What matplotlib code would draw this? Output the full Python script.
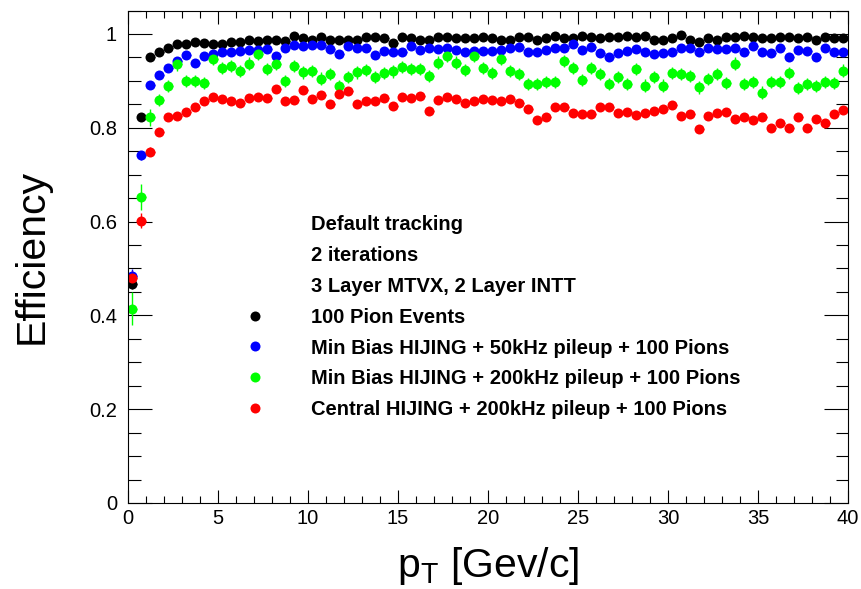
import numpy as np
import matplotlib.pyplot as plt
from matplotlib.lines import Line2D
from matplotlib.ticker import MultipleLocator, FuncFormatter

plt.rcParams['font.family'] = ['Liberation Sans', 'DejaVu Sans']
plt.rcParams['mathtext.fontset'] = 'custom'
plt.rcParams['mathtext.rm'] = 'Liberation Sans'

# pT binning: 80 bins of 0.5 GeV/c
bin_width = 0.5
n_bins = 80
pt = (np.arange(n_bins) + 0.5) * bin_width

# efficiency per bin
eff_pion = [0.467, 0.822, 0.950, 0.962, 0.971, 0.978, 0.978, 0.983, 0.980, 0.979,
            0.978, 0.983, 0.983, 0.987, 0.986, 0.988, 0.988, 0.986, 0.996, 0.991,
            0.987, 0.993, 0.988, 0.988, 0.988, 0.988, 0.994, 0.994, 0.991, 0.980,
            0.994, 0.991, 0.988, 0.988, 0.994, 0.994, 0.991, 0.991, 0.991, 0.993,
            0.991, 0.988, 0.988, 0.993, 0.994, 0.988, 0.991, 0.996, 0.991, 0.991,
            0.996, 0.993, 0.991, 0.994, 0.993, 0.996, 0.993, 0.996, 0.988, 0.988,
            0.991, 0.998, 0.988, 0.983, 0.991, 0.987, 0.993, 0.993, 0.996, 0.994,
            0.991, 0.991, 0.994, 0.993, 0.991, 0.994, 0.988, 0.993, 0.991, 0.991]

eff_mb50 = [0.483, 0.741, 0.891, 0.912, 0.927, 0.943, 0.955, 0.939, 0.952, 0.957,
            0.961, 0.962, 0.964, 0.966, 0.966, 0.967, 0.953, 0.969, 0.976, 0.974,
            0.976, 0.976, 0.967, 0.957, 0.974, 0.969, 0.969, 0.955, 0.964, 0.962,
            0.961, 0.974, 0.966, 0.969, 0.967, 0.969, 0.966, 0.962, 0.964, 0.964,
            0.964, 0.966, 0.969, 0.973, 0.961, 0.961, 0.966, 0.971, 0.971, 0.978,
            0.966, 0.973, 0.959, 0.950, 0.960, 0.964, 0.967, 0.962, 0.957, 0.959,
            0.962, 0.969, 0.971, 0.961, 0.971, 0.967, 0.967, 0.969, 0.962, 0.974,
            0.962, 0.959, 0.969, 0.950, 0.966, 0.964, 0.950, 0.969, 0.961, 0.962]

eff_mb200 = [0.414, 0.653, 0.822, 0.859, 0.889, 0.935, 0.900, 0.900, 0.896, 0.947,
             0.928, 0.932, 0.921, 0.937, 0.957, 0.925, 0.937, 0.900, 0.932, 0.918,
             0.921, 0.905, 0.914, 0.889, 0.909, 0.918, 0.924, 0.908, 0.916, 0.920,
             0.930, 0.925, 0.925, 0.911, 0.939, 0.953, 0.939, 0.923, 0.953, 0.927,
             0.916, 0.946, 0.921, 0.914, 0.893, 0.894, 0.898, 0.898, 0.943, 0.927,
             0.902, 0.927, 0.914, 0.893, 0.908, 0.893, 0.925, 0.890, 0.908, 0.890,
             0.916, 0.914, 0.911, 0.886, 0.904, 0.914, 0.896, 0.937, 0.893, 0.898,
             0.875, 0.898, 0.898, 0.916, 0.884, 0.893, 0.889, 0.898, 0.896, 0.922]

eff_central = [0.479, 0.602, 0.749, 0.790, 0.822, 0.826, 0.833, 0.845, 0.858, 0.865,
               0.861, 0.858, 0.852, 0.863, 0.865, 0.863, 0.882, 0.856, 0.859, 0.880,
               0.861, 0.870, 0.850, 0.873, 0.878, 0.850, 0.857, 0.858, 0.864, 0.847,
               0.866, 0.863, 0.868, 0.836, 0.859, 0.865, 0.861, 0.852, 0.856, 0.861,
               0.859, 0.856, 0.861, 0.852, 0.839, 0.817, 0.822, 0.845, 0.844, 0.831,
               0.829, 0.829, 0.844, 0.845, 0.832, 0.834, 0.827, 0.831, 0.836, 0.839,
               0.848, 0.825, 0.830, 0.797, 0.825, 0.831, 0.833, 0.819, 0.822, 0.817,
               0.822, 0.799, 0.811, 0.799, 0.822, 0.799, 0.819, 0.811, 0.830, 0.838]

# errors: first three bins read separately, flat value above
err_low = {'pion': [0.010, 0.008, 0.005], 'mb50': [0.016, 0.010, 0.006],
           'mb200': [0.035, 0.028, 0.018], 'central': [0.015, 0.016, 0.010]}
err_flat = {'pion': 0.004, 'mb50': 0.005, 'mb200': 0.013, 'central': 0.006}

labels = ["100 Pion Events",
          "Min Bias HIJING + 50kHz pileup + 100 Pions",
          "Min Bias HIJING + 200kHz pileup + 100 Pions",
          "Central HIJING + 200kHz pileup + 100 Pions"]
header = ["Default tracking", "2 iterations", "3 Layer MTVX, 2 Layer INTT"]
colors = ['#000000', '#0000ff', '#00ff00', '#ff0000']
keys = ['pion', 'mb50', 'mb200', 'central']
series = [eff_pion, eff_mb50, eff_mb200, eff_central]

fig = plt.figure(figsize=(8.62, 5.89), dpi=100)
ax = fig.add_axes([128 / 862, 86 / 589, 720 / 862, 492.5 / 589])

handles = []
for key, eff, col, lab in zip(keys, series, colors, labels):
    err = err_low[key] + [err_flat[key]] * (n_bins - len(err_low[key]))
    cont = ax.errorbar(pt, eff, xerr=bin_width / 2, yerr=err, fmt='o', color=col,
                       ms=7.2, mew=0, elinewidth=1, capsize=0, label=lab)
    handles.append(cont[0])

ax.set_xlim(0, 40)
ax.set_ylim(0, 1.05)
ax.xaxis.set_major_locator(MultipleLocator(5))
ax.xaxis.set_minor_locator(MultipleLocator(1))
ax.yaxis.set_major_locator(MultipleLocator(0.2))
ax.yaxis.set_minor_locator(MultipleLocator(0.05))
ax.yaxis.set_major_formatter(FuncFormatter(lambda v, p: f'{v:g}'))

ax.tick_params(which='both', direction='in', top=True, right=True, width=0.8,
               labelsize=14.5)
ax.tick_params(axis='x', which='major', length=9.7, pad=4)
ax.tick_params(axis='x', which='minor', length=5)
ax.tick_params(axis='y', which='major', length=17, pad=8)
ax.tick_params(axis='y', which='minor', length=9)
for sp in ax.spines.values():
    sp.set_linewidth(0.8)

ax.set_xlabel(r'p$_{\rm T}$ [Gev/c]', fontsize=29.5)
ax.set_ylabel('Efficiency', fontsize=29.5)
ax.xaxis.set_label_coords(0.5, -0.085)
ax.yaxis.set_label_coords(-0.108, 0.5)

blank = Line2D([], [], linestyle='none', marker='none')
leg = fig.legend([blank] * 3 + handles, header + labels,
                 loc='upper left', bbox_to_anchor=(0.2724, 0.6343),
                 frameon=False, borderpad=0, borderaxespad=0,
                 handlelength=2.0, handletextpad=1.77, labelspacing=0.585,
                 prop={'weight': 'bold', 'size': 14.5})

fig.savefig('out.png', dpi=100)
